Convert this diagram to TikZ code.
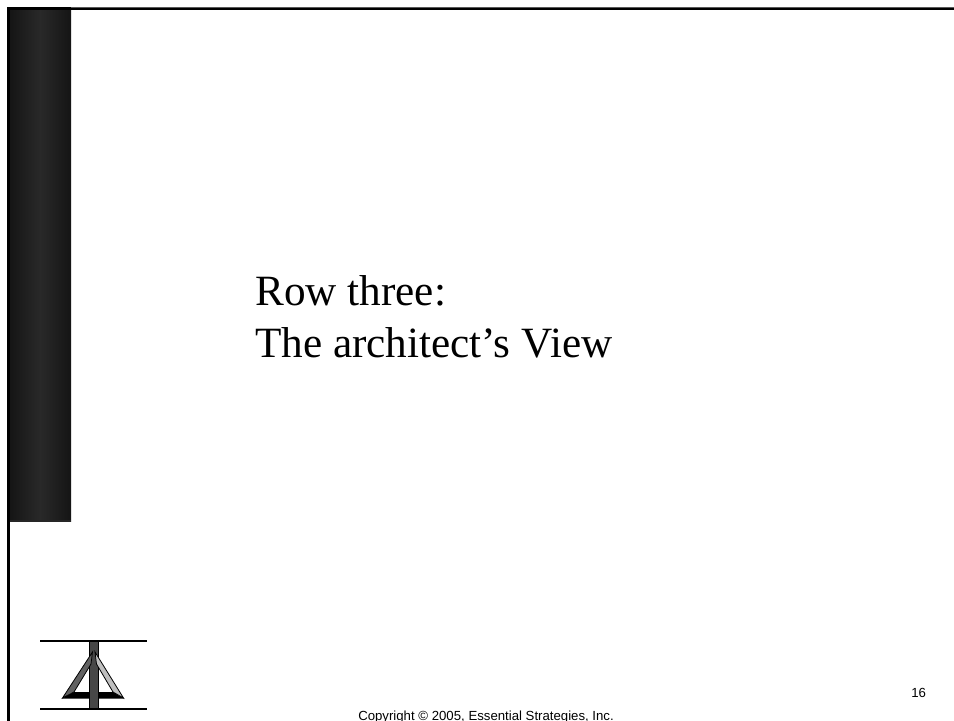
\documentclass[tikz,border=0pt]{standalone}
\usepackage{fontspec}
\setmainfont{Liberation Serif}
\newfontfamily\lsans{Liberation Sans}
\begin{document}
\begin{tikzpicture}[x=0.75pt,y=-0.75pt,
  logoline/.style={line width=1.5pt,black},
  legedge/.style={draw=black,line width=0.6pt,line join=miter},
  title/.style={anchor=base west,inner sep=0pt,font=\fontsize{32.4}{39}\selectfont},
  small/.style={anchor=base west,inner sep=0pt,font=\lsans\fontsize{9.9}{12}\selectfont}]
\useasboundingbox (0,0) rectangle (954,721);
\fill[white] (0,0) rectangle (954,721);
% side bar with its horizontal shading
\shade[left color=black!92,right color=black!92,middle color=black!84] (9,9) rectangle (71,521);
\draw[line width=1pt,black!85] (9,521) -- (71,521);
% frame
\draw[line width=0.9pt,black!65] (71,7.6) -- (954,7.6);
\draw[line width=1.2pt,black] (71,8.8) -- (954,8.8);
\fill[black] (7,7) rectangle (71,10);
\fill[black] (7,7) rectangle (9.6,721);
% logo
\fill[black] (62,698.5) -- (124,698.5) -- (113,692) -- (74,692) -- cycle;
\fill[black!72,draw=black,line width=0.4pt] (89,641) rectangle (98,709);
\filldraw[legedge,fill=black!62] (92.5,652) -- (62.5,698) -- (74,692) -- (91,664) -- cycle;
\filldraw[legedge,fill=black!25] (95,652) -- (123.5,698) -- (113,692) -- (96.5,664) -- cycle;
\draw[logoline] (40,640.7) -- (147,640.7);
\draw[logoline] (40,709) -- (147,709);
% texts
\node[title] (t1) at (255,305) {Row three:};
\node[title] (t2) at (255,357) {The architect’s View};
\node[small] (c) at (358,720) {Copyright © 2005, Essential Strategies, Inc.};
\node[small] (n) at (911,697) {16};
\end{tikzpicture}
\end{document}
